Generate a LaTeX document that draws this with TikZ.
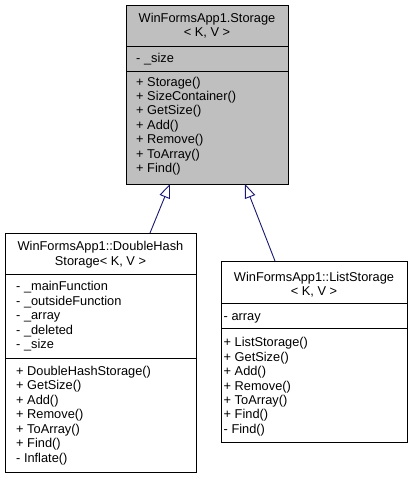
\documentclass[tikz,border=0pt]{standalone}
\usepackage{fontspec}
\setmainfont{Liberation Sans}
\usetikzlibrary{arrows.meta}
\definecolor{edgeblue}{RGB}{25,25,112}
\definecolor{boxgray}{RGB}{191,191,191}
\begin{document}
\begin{tikzpicture}[x=1pt,y=-1pt,
  box/.style={draw=black, line width=0.9pt, rectangle, anchor=north west, inner sep=0pt, outer sep=0pt},
  sep/.style={draw=black, line width=0.9pt},
  txt/.style={anchor=base west, inner sep=0pt, font=\fontsize{12.8}{14.45}\selectfont},
  ttl/.style={anchor=base, inner sep=0pt, font=\fontsize{12.8}{14.45}\selectfont},
  inh/.style={draw=edgeblue, line width=0.9pt, -{Triangle[open, length=14pt, width=11pt, fill=white]}}]
\useasboundingbox (0,0) rectangle (413,477);
\fill[white] (0,0) rectangle (413,477);

% ---- Storage
\node[box, fill=boxgray, minimum width=162pt, minimum height=179pt] (st) at (126,5) {};
\draw[sep] (126,46) -- (288,46);
\draw[sep] (126,71) -- (288,71);
\node[ttl] (stt1) at (207,22.7) {WinFormsApp1.Storage};
\node[ttl] (stt2) at (207,36.7) {< K, V >};
\node[txt] (sta1) at (136,62.3) {- \_size};
\foreach \t [count=\i] in {+ Storage(), + SizeContainer(), + GetSize(), + Add(), + Remove(), + ToArray(), + Find()}
  \node[txt] (stm\i) at (136,{86+(\i-1)*14.45}) {\t};

% ---- DoubleHashStorage
\node[box, fill=white, minimum width=191pt, minimum height=239pt] (dh) at (5,233) {};
\draw[sep] (5,274) -- (196,274);
\draw[sep] (5,358) -- (196,358);
\node[ttl] (dht1) at (100.5,250.7) {WinFormsApp1::DoubleHash};
\node[ttl] (dht2) at (100.5,265.3) {Storage< K, V >};
\foreach \t [count=\i] in {- \_mainFunction, - \_outsideFunction, - \_array, - \_deleted, - \_size}
  \node[txt] (dha\i) at (16,{290.7+(\i-1)*14.45}) {\t};
\foreach \t [count=\i] in {+ DoubleHashStorage(), + GetSize(), + Add(), + Remove(), + ToArray(), + Find(), - Inflate()}
  \node[txt] (dhm\i) at (16,{375.5+(\i-1)*14.45}) {\t};

% ---- ListStorage
\node[box, fill=white, minimum width=186pt, minimum height=181pt] (ls) at (221,261) {};
\draw[sep] (221,303) -- (407,303);
\draw[sep] (221,328) -- (407,328);
\node[ttl] (lst1) at (314,281.7) {WinFormsApp1::ListStorage};
\node[ttl] (lst2) at (314,295.7) {< K, V >};
\node[txt] (lsa1) at (223.5,320) {- array};
\foreach \t [count=\i] in {+ ListStorage(), + GetSize(), + Add(), + Remove(), + ToArray(), + Find(), - Find()}
  \node[txt] (lsm\i) at (223.5,{346.7+(\i-1)*14.45}) {\t};

% ---- connectors
\coordinate (dhTop) at (150,233);
\coordinate (lsTop) at (275,261);
\coordinate (stL) at (170,184);
\coordinate (stR) at (245,184);
\draw[inh] (dhTop) -- (stL);
\draw[inh] (lsTop) -- (stR);
\end{tikzpicture}
\end{document}
